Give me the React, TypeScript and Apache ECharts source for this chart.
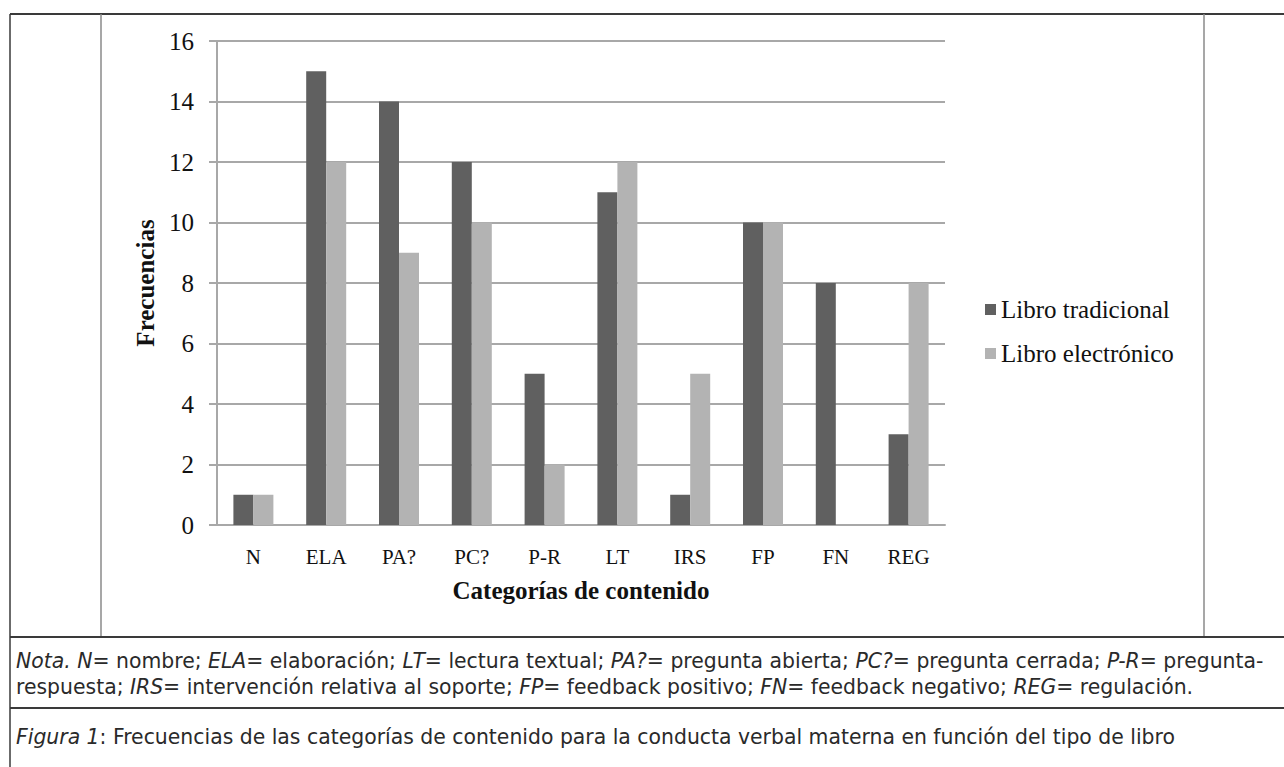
import React, { useEffect, useRef } from "react";
import * as echarts from "echarts";

const categories = ["N", "ELA", "PA?", "PC?", "P-R", "LT", "IRS", "FP", "FN", "REG"];
const tradicional = [1, 15, 14, 12, 5, 11, 1, 10, 8, 3];
const electronico = [1, 12, 9, 10, 2, 12, 5, 10, 0, 8];
const seriesNames = ["Libro tradicional", "Libro electrónico"];

const SERIF = "Liberation Serif, Times New Roman, serif";
const SANS = "DejaVu Sans, Noto Sans, sans-serif";
const NOTE_SIZE = 20.4;

export default function App() {
  const ref = useRef<HTMLDivElement>(null);
  useEffect(() => {
    if (!ref.current) return;
    const chart = echarts.init(ref.current, undefined, { renderer: "svg" });
    const border = "#3a3a3a";
    const thin = "#8a8a8a";
    const noteRich = {
      i: { fontFamily: SANS, fontStyle: "italic", fontSize: NOTE_SIZE, lineHeight: 24, fill: "#2a2a2a" },
      n: { fontFamily: SANS, fontSize: NOTE_SIZE, lineHeight: 24, fill: "#2a2a2a" },
    };
    const noteText = (y: number, text: string) => ({
      type: "text",
      x: 16,
      y,
      style: {
        text,
        rich: noteRich,
        fontFamily: SANS,
        fontSize: NOTE_SIZE,
        lineHeight: 24,
        fill: "#2a2a2a",
        verticalAlign: "middle",
        align: "left",
      },
    });
    const legendText = { fontFamily: SERIF, fontSize: 25, color: "#111" };
    chart.setOption({
      animation: false,
      backgroundColor: "#ffffff",
      textStyle: { fontFamily: SERIF },
      grid: { left: 217, right: 339, top: 41, bottom: 242, containLabel: false },
      legend: {
        orient: "vertical",
        left: 985,
        top: 297,
        padding: 0,
        icon: "rect",
        itemWidth: 11,
        itemHeight: 11,
        itemGap: 19,
        data: seriesNames.map((name) => ({ name, textStyle: legendText })),
        textStyle: legendText,
      },
      xAxis: {
        type: "category",
        data: categories,
        axisLine: { lineStyle: { color: "#a8a8a8", width: 2 } },
        axisTick: { show: false },
        axisLabel: { fontFamily: SERIF, fontSize: 21, color: "#111", margin: 21 },
        name: "Categorías de contenido",
        nameLocation: "middle",
        nameGap: 53,
        nameTextStyle: { fontFamily: SERIF, fontSize: 25, fontWeight: "bold", color: "#111" },
      },
      yAxis: {
        type: "value",
        min: 0,
        max: 16,
        interval: 2,
        axisLine: { show: true, lineStyle: { color: "#a8a8a8", width: 2 } },
        axisTick: { show: true, length: 8, lineStyle: { color: "#a8a8a8", width: 2 } },
        splitLine: { lineStyle: { color: "#a8a8a8", width: 2 } },
        axisLabel: { fontFamily: SERIF, fontSize: 25, color: "#111", margin: 23 },
        name: "Frecuencias",
        nameLocation: "middle",
        nameGap: 58,
        nameTextStyle: { fontFamily: SERIF, fontSize: 25, fontWeight: "bold", color: "#111" },
      },
      series: [
        {
          name: seriesNames[0],
          type: "bar",
          data: tradicional,
          barWidth: 20,
          barGap: "0%",
          itemStyle: { color: "#606060" },
        },
        {
          name: seriesNames[1],
          type: "bar",
          data: electronico,
          barWidth: 20,
          barGap: "0%",
          itemStyle: { color: "#b3b3b3" },
        },
      ],
      graphic: [
        { type: "line", shape: { x1: 10, y1: 14, x2: 1284, y2: 14 }, style: { stroke: border, lineWidth: 2 } },
        { type: "line", shape: { x1: 10, y1: 14, x2: 10, y2: 767 }, style: { stroke: border, lineWidth: 1.5 } },
        { type: "line", shape: { x1: 101, y1: 14, x2: 101, y2: 637 }, style: { stroke: thin, lineWidth: 1.5 } },
        { type: "line", shape: { x1: 1204, y1: 14, x2: 1204, y2: 637 }, style: { stroke: thin, lineWidth: 1.5 } },
        { type: "line", shape: { x1: 10, y1: 637, x2: 1284, y2: 637 }, style: { stroke: border, lineWidth: 2 } },
        { type: "line", shape: { x1: 10, y1: 708, x2: 1284, y2: 708 }, style: { stroke: border, lineWidth: 2 } },
        noteText(
          661,
          "{i|Nota. N}{n|= nombre; }{i|ELA}{n|= elaboración; }{i|LT}{n|= lectura textual; }{i|PA?}{n|= pregunta abierta; }{i|PC?}{n|= pregunta cerrada; }{i|P-R}{n|= pregunta-}"
        ),
        noteText(
          687,
          "{n|respuesta; }{i|IRS}{n|= intervención relativa al soporte; }{i|FP}{n|= feedback positivo; }{i|FN}{n|= feedback negativo; }{i|REG}{n|= regulación.}"
        ),
        noteText(
          737,
          "{i|Figura 1}{n|: Frecuencias de las categorías de contenido para la conducta verbal materna en función del tipo de libro}"
        ),
      ],
    });
    return () => chart.dispose();
  }, []);
  return (
    <div
      ref={ref}
      style={{ position: "fixed", left: 0, top: 0, width: 1284, height: 767, background: "#fff" }}
    />
  );
}
